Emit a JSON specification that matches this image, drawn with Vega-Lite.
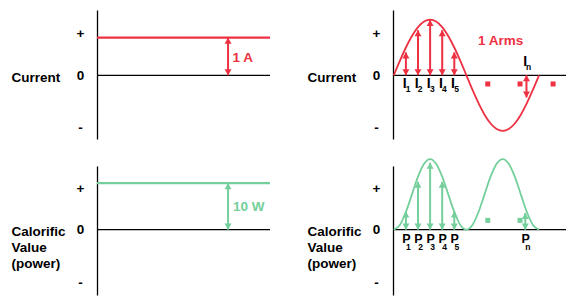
{
  "$schema": "https://vega.github.io/schema/vega-lite/v6.json",
  "padding": {"left": 11, "top": 10, "right": 5, "bottom": 5},
  "bounds": "flush",
  "columns": 2,
  "spacing": {"row": 27, "column": 123},
  "config": {"view": {"stroke": null}, "font": "Liberation Sans",
    "axisY": {"titleAngle": 0, "titleAlign": "left", "titleBaseline": "alphabetic", "titleX": -86, "titleFontSize": 13.5, "titleFontWeight": "bold", "titleColor": "black", "titleFont": "Liberation Sans",
      "labelExpr": "datum.value > 0.5 ? '+' : (datum.value < -0.5 ? '-' : '0')", "labelAlign": "center", "labelBaseline": "middle", "labelPadding": 17, "labelFontSize": 13.5, "labelFontWeight": "bold", "labelColor": "black", "labelFont": "Liberation Sans", "labelFlush": false, "labelOverlap": false, "ticks": false, "tickSize": 0, "grid": false, "domainColor": "black", "domainWidth": 1.3}},
  "concat": [
    {
      "width": 173, "height": 129,
      "data": {"values": [
        {"kind": "zero", "x": -2, "x2": 427, "y": 0},
        {"kind": "level", "x": -2, "x2": 427, "y": 1},
        {"kind": "arrow", "x": 323, "y": 0, "y2": 1},
        {"kind": "note", "x": 334, "y": 0.45, "text": "1 A"}
      ]},
      "encoding": {
        "x": {"field": "x", "type": "quantitative", "scale": {"domain": [-2, 427], "nice": false, "zero": false}, "axis": null},
        "y": {"field": "y", "type": "quantitative", "scale": {"domain": [-1.694, 1.737], "nice": false, "zero": false}, "axis": {"title": "Current", "titleY": 71, "values": [-1.39, 0, 1.1]}}
      },
      "layer": [
        {"transform": [{"filter": "datum.kind === 'zero'"}], "mark": {"type": "rule", "color": "black", "strokeWidth": 1.3}, "encoding": {"x2": {"field": "x2"}}},
        {"transform": [{"filter": "datum.kind === 'level'"}], "mark": {"type": "rule", "color": "#ee3142", "strokeWidth": 2.2}, "encoding": {"x2": {"field": "x2"}}},
        {"transform": [{"filter": "datum.kind === 'arrow'"}], "mark": {"type": "rule", "color": "#ee3142", "strokeWidth": 2}, "encoding": {"y2": {"field": "y2"}}},
        {"transform": [{"filter": "datum.kind === 'arrow'"}], "mark": {"type": "point", "shape": "triangle-up", "filled": true, "size": 49, "color": "#ee3142", "opacity": 1, "yOffset": 3},
         "encoding": {"y": {"field": "y2", "type": "quantitative", "scale": {"domain": [-1.694, 1.737], "nice": false, "zero": false}, "axis": {"title": "Current", "titleY": 71, "values": [-1.39, 0, 1.1]}}}},
        {"transform": [{"filter": "datum.kind === 'arrow'"}], "mark": {"type": "point", "shape": "triangle-down", "filled": true, "size": 49, "color": "#ee3142", "opacity": 1, "yOffset": -3}},
        {"transform": [{"filter": "datum.kind === 'note'"}], "mark": {"type": "text", "fontWeight": "bold", "fontSize": 13.5, "color": "#ee3142", "align": "left", "baseline": "middle"}, "encoding": {"text": {"field": "text"}}}
      ]
    },
    {
      "width": 173, "height": 129,
      "data": {"values": [
        {"kind": "zero", "x": -2, "x2": 427, "y": 0},
        {"kind": "curve", "x": 0, "y": 0}, {"kind": "curve", "x": 15, "y": 0.383}, {"kind": "curve", "x": 30, "y": 0.74}, {"kind": "curve", "x": 45, "y": 1.047},
        {"kind": "curve", "x": 60, "y": 1.282}, {"kind": "curve", "x": 75, "y": 1.43}, {"kind": "curve", "x": 90, "y": 1.48}, {"kind": "curve", "x": 105, "y": 1.43},
        {"kind": "curve", "x": 120, "y": 1.282}, {"kind": "curve", "x": 135, "y": 1.047}, {"kind": "curve", "x": 150, "y": 0.74}, {"kind": "curve", "x": 165, "y": 0.383},
        {"kind": "curve", "x": 180, "y": 0}, {"kind": "curve", "x": 195, "y": -0.383}, {"kind": "curve", "x": 210, "y": -0.74}, {"kind": "curve", "x": 225, "y": -1.047},
        {"kind": "curve", "x": 240, "y": -1.282}, {"kind": "curve", "x": 255, "y": -1.43}, {"kind": "curve", "x": 270, "y": -1.48}, {"kind": "curve", "x": 285, "y": -1.43},
        {"kind": "curve", "x": 300, "y": -1.282}, {"kind": "curve", "x": 315, "y": -1.047}, {"kind": "curve", "x": 330, "y": -0.74}, {"kind": "curve", "x": 345, "y": -0.383},
        {"kind": "curve", "x": 360, "y": 0},
        {"kind": "arrow", "x": 30, "y": 0, "y2": 0.61},
        {"kind": "arrow", "x": 60, "y": 0, "y2": 1.2},
        {"kind": "arrow", "x": 90, "y": 0, "y2": 1.47},
        {"kind": "arrow", "x": 120, "y": 0, "y2": 1.2},
        {"kind": "arrow", "x": 150, "y": 0, "y2": 0.61},
        {"kind": "arrow", "x": 329, "y": -0.59, "y2": 0},
        {"kind": "sq", "x": 233, "y": -0.23},
        {"kind": "sq", "x": 313, "y": -0.23},
        {"kind": "sq", "x": 395, "y": -0.23},
        {"kind": "lab", "x": 30, "y": -0.23, "main": "I", "sub": "1"},
        {"kind": "lab", "x": 60, "y": -0.23, "main": "I", "sub": "2"},
        {"kind": "lab", "x": 90, "y": -0.23, "main": "I", "sub": "3"},
        {"kind": "lab", "x": 120, "y": -0.23, "main": "I", "sub": "4"},
        {"kind": "lab", "x": 150, "y": -0.23, "main": "I", "sub": "5"},
        {"kind": "lab", "x": 329, "y": 0.36, "main": "I", "sub": "n"},
        {"kind": "note", "x": 209, "y": 0.92, "text": "1 Arms"}
      ]},
      "encoding": {
        "x": {"field": "x", "type": "quantitative", "scale": {"domain": [-2, 427], "nice": false, "zero": false}, "axis": null},
        "y": {"field": "y", "type": "quantitative", "scale": {"domain": [-1.694, 1.737], "nice": false, "zero": false}, "axis": {"title": "Current", "titleY": 71, "values": [-1.39, 0, 1.1]}}
      },
      "layer": [
        {"transform": [{"filter": "datum.kind === 'zero'"}], "mark": {"type": "rule", "color": "black", "strokeWidth": 1.3}, "encoding": {"x2": {"field": "x2"}}},
        {"transform": [{"filter": "datum.kind === 'curve'"}], "mark": {"type": "line", "color": "#ee3142", "strokeWidth": 1.8, "interpolate": "monotone"}, "encoding": {}},
        {"transform": [{"filter": "datum.kind === 'arrow'"}], "mark": {"type": "rule", "color": "#ee3142", "strokeWidth": 2}, "encoding": {"y2": {"field": "y2"}}},
        {"transform": [{"filter": "datum.kind === 'arrow'"}], "mark": {"type": "point", "shape": "triangle-up", "filled": true, "size": 49, "color": "#ee3142", "opacity": 1, "yOffset": 3},
         "encoding": {"y": {"field": "y2", "type": "quantitative", "scale": {"domain": [-1.694, 1.737], "nice": false, "zero": false}, "axis": {"title": "Current", "titleY": 71, "values": [-1.39, 0, 1.1]}}}},
        {"transform": [{"filter": "datum.kind === 'arrow'"}], "mark": {"type": "point", "shape": "triangle-down", "filled": true, "size": 49, "color": "#ee3142", "opacity": 1, "yOffset": -3}},
        {"transform": [{"filter": "datum.kind === 'sq'"}], "mark": {"type": "square", "filled": true, "size": 25, "color": "#ee3142", "opacity": 1}},
        {"transform": [{"filter": "datum.kind === 'lab'"}], "mark": {"type": "text", "fontWeight": "bold", "fontSize": 14, "color": "black", "align": "center", "baseline": "middle", "dx": -1.3}, "encoding": {"text": {"field": "main"}}},
        {"transform": [{"filter": "datum.kind === 'lab'"}], "mark": {"type": "text", "fontWeight": "bold", "fontSize": 8.5, "color": "black", "align": "center", "baseline": "middle", "dx": 2.2, "dy": 5.5}, "encoding": {"text": {"field": "sub"}}},
        {"transform": [{"filter": "datum.kind === 'note'"}], "mark": {"type": "text", "fontWeight": "bold", "fontSize": 13.5, "color": "#ee3142", "align": "left", "baseline": "middle"}, "encoding": {"text": {"field": "text"}}}
      ]
    },
    {
      "width": 173, "height": 129,
      "data": {"values": [
        {"kind": "zero", "x": -2, "x2": 427, "y": 0},
        {"kind": "level", "x": -2, "x2": 427, "y": 1},
        {"kind": "arrow", "x": 323, "y": 0, "y2": 1},
        {"kind": "note", "x": 335, "y": 0.486, "text": "10 W"}
      ]},
      "encoding": {
        "x": {"field": "x", "type": "quantitative", "scale": {"domain": [-2, 427], "nice": false, "zero": false}, "axis": null},
        "y": {"field": "y", "type": "quantitative", "scale": {"domain": [-1.407, 1.37], "nice": false, "zero": false}, "axis": {"title": ["Calorific", "Value", "(power)"], "titleLineHeight": 16.3, "titleY": 69, "values": [-1.128, 0, 0.878]}}
      },
      "layer": [
        {"transform": [{"filter": "datum.kind === 'zero'"}], "mark": {"type": "rule", "color": "black", "strokeWidth": 1.3}, "encoding": {"x2": {"field": "x2"}}},
        {"transform": [{"filter": "datum.kind === 'level'"}], "mark": {"type": "rule", "color": "#74cf9b", "strokeWidth": 2.2}, "encoding": {"x2": {"field": "x2"}}},
        {"transform": [{"filter": "datum.kind === 'arrow'"}], "mark": {"type": "rule", "color": "#74cf9b", "strokeWidth": 2}, "encoding": {"y2": {"field": "y2"}}},
        {"transform": [{"filter": "datum.kind === 'arrow'"}], "mark": {"type": "point", "shape": "triangle-up", "filled": true, "size": 49, "color": "#74cf9b", "opacity": 1, "yOffset": 3},
         "encoding": {"y": {"field": "y2", "type": "quantitative", "scale": {"domain": [-1.407, 1.37], "nice": false, "zero": false}, "axis": {"title": ["Calorific", "Value", "(power)"], "titleLineHeight": 16.3, "titleY": 69, "values": [-1.128, 0, 0.878]}}}},
        {"transform": [{"filter": "datum.kind === 'arrow'"}], "mark": {"type": "point", "shape": "triangle-down", "filled": true, "size": 49, "color": "#74cf9b", "opacity": 1, "yOffset": -3}},
        {"transform": [{"filter": "datum.kind === 'note'"}], "mark": {"type": "text", "fontWeight": "bold", "fontSize": 13.5, "color": "#74cf9b", "align": "left", "baseline": "middle"}, "encoding": {"text": {"field": "text"}}}
      ]
    },
    {
      "width": 173, "height": 129,
      "data": {"values": [
        {"kind": "zero", "x": -2, "x2": 427, "y": 0},
        {"kind": "curve", "x": 0, "y": 0}, {"kind": "curve", "x": 15, "y": 0.102}, {"kind": "curve", "x": 30, "y": 0.38}, {"kind": "curve", "x": 45, "y": 0.76},
        {"kind": "curve", "x": 60, "y": 1.14}, {"kind": "curve", "x": 75, "y": 1.418}, {"kind": "curve", "x": 90, "y": 1.52}, {"kind": "curve", "x": 105, "y": 1.418},
        {"kind": "curve", "x": 120, "y": 1.14}, {"kind": "curve", "x": 135, "y": 0.76}, {"kind": "curve", "x": 150, "y": 0.38}, {"kind": "curve", "x": 165, "y": 0.102},
        {"kind": "curve", "x": 180, "y": 0}, {"kind": "curve", "x": 195, "y": 0.102}, {"kind": "curve", "x": 210, "y": 0.38}, {"kind": "curve", "x": 225, "y": 0.76},
        {"kind": "curve", "x": 240, "y": 1.14}, {"kind": "curve", "x": 255, "y": 1.418}, {"kind": "curve", "x": 270, "y": 1.52}, {"kind": "curve", "x": 285, "y": 1.418},
        {"kind": "curve", "x": 300, "y": 1.14}, {"kind": "curve", "x": 315, "y": 0.76}, {"kind": "curve", "x": 330, "y": 0.38}, {"kind": "curve", "x": 345, "y": 0.102},
        {"kind": "curve", "x": 360, "y": 0},
        {"kind": "arrow", "x": 30, "y": 0, "y2": 0.39},
        {"kind": "arrow", "x": 60, "y": 0, "y2": 1.03},
        {"kind": "arrow", "x": 90, "y": 0, "y2": 1.44},
        {"kind": "arrow", "x": 120, "y": 0, "y2": 1.03},
        {"kind": "arrow", "x": 150, "y": 0, "y2": 0.39},
        {"kind": "arrow", "x": 326, "y": 0, "y2": 0.36},
        {"kind": "sq", "x": 233, "y": 0.2},
        {"kind": "sq", "x": 313, "y": 0.2},
        {"kind": "lab", "x": 30, "y": -0.21, "main": "P", "sub": "1"},
        {"kind": "lab", "x": 60, "y": -0.21, "main": "P", "sub": "2"},
        {"kind": "lab", "x": 90, "y": -0.21, "main": "P", "sub": "3"},
        {"kind": "lab", "x": 120, "y": -0.21, "main": "P", "sub": "4"},
        {"kind": "lab", "x": 150, "y": -0.21, "main": "P", "sub": "5"},
        {"kind": "lab", "x": 326, "y": -0.21, "main": "P", "sub": "n"}
      ]},
      "encoding": {
        "x": {"field": "x", "type": "quantitative", "scale": {"domain": [-2, 427], "nice": false, "zero": false}, "axis": null},
        "y": {"field": "y", "type": "quantitative", "scale": {"domain": [-1.407, 1.37], "nice": false, "zero": false}, "axis": {"title": ["Calorific", "Value", "(power)"], "titleLineHeight": 16.3, "titleY": 69, "values": [-1.128, 0, 0.878]}}
      },
      "layer": [
        {"transform": [{"filter": "datum.kind === 'zero'"}], "mark": {"type": "rule", "color": "black", "strokeWidth": 1.3}, "encoding": {"x2": {"field": "x2"}}},
        {"transform": [{"filter": "datum.kind === 'curve'"}], "mark": {"type": "line", "color": "#74cf9b", "strokeWidth": 1.8, "interpolate": "monotone"}, "encoding": {}},
        {"transform": [{"filter": "datum.kind === 'arrow'"}], "mark": {"type": "rule", "color": "#74cf9b", "strokeWidth": 2}, "encoding": {"y2": {"field": "y2"}}},
        {"transform": [{"filter": "datum.kind === 'arrow'"}], "mark": {"type": "point", "shape": "triangle-up", "filled": true, "size": 49, "color": "#74cf9b", "opacity": 1, "yOffset": 3},
         "encoding": {"y": {"field": "y2", "type": "quantitative", "scale": {"domain": [-1.407, 1.37], "nice": false, "zero": false}, "axis": {"title": ["Calorific", "Value", "(power)"], "titleLineHeight": 16.3, "titleY": 69, "values": [-1.128, 0, 0.878]}}}},
        {"transform": [{"filter": "datum.kind === 'arrow'"}], "mark": {"type": "point", "shape": "triangle-down", "filled": true, "size": 49, "color": "#74cf9b", "opacity": 1, "yOffset": -3}},
        {"transform": [{"filter": "datum.kind === 'sq'"}], "mark": {"type": "square", "filled": true, "size": 25, "color": "#74cf9b", "opacity": 1}},
        {"transform": [{"filter": "datum.kind === 'lab'"}], "mark": {"type": "text", "fontWeight": "bold", "fontSize": 12.5, "color": "black", "align": "center", "baseline": "middle", "dx": 0.5}, "encoding": {"text": {"field": "main"}}},
        {"transform": [{"filter": "datum.kind === 'lab'"}], "mark": {"type": "text", "fontWeight": "bold", "fontSize": 8.5, "color": "black", "align": "center", "baseline": "middle", "dx": 2.5, "dy": 7.5}, "encoding": {"text": {"field": "sub"}}}
      ]
    }
  ]
}
